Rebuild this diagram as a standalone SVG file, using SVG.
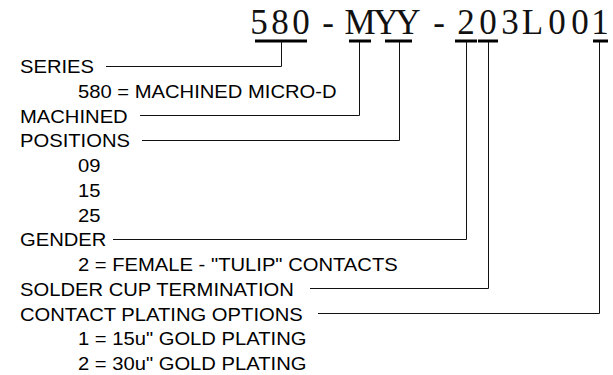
<svg xmlns="http://www.w3.org/2000/svg" width="613" height="375" viewBox="0 0 613 375">
<style>
.lbl{font-family:"Liberation Sans",Arial,sans-serif;font-size:17.5px;fill:#000}
.pn{font-family:"Liberation Serif","Times New Roman",serif;font-size:35px;fill:#111}
.con{fill:none;stroke:#111;stroke-width:1}
.bar{fill:#000}
</style>
<rect width="613" height="375" fill="#fff"/>
<g id="part-number">
<text class="pn" y="34" text-anchor="middle" x="259 280 301 328 360 386 408 439 466 488 510 532.5 557 580 600">580-MYY-203L001</text>
</g>
<g id="bars">
<rect class="bar" x="255" y="39.5" width="52" height="3"/>
<rect class="bar" x="349" y="39.5" width="22" height="3"/>
<rect class="bar" x="385" y="39.5" width="27" height="3"/>
<rect class="bar" x="455" y="39.5" width="22" height="3"/>
<rect class="bar" x="478" y="39.5" width="20" height="3"/>
<rect class="bar" x="593" y="39.5" width="15" height="3"/>
</g>
<g id="connectors">
<path class="con" d="M106,66.5 H281.5 V42"/>
<path class="con" d="M140,115.5 H359.5 V42"/>
<path class="con" d="M142,140.5 H399.5 V42"/>
<path class="con" d="M113,239.5 H466.5 V42"/>
<path class="con" d="M310,288.5 H488.5 V42"/>
<path class="con" d="M318,313.5 H599.5 V42"/>
</g>
<g transform="scale(1.155,1)">
<g id="series"><text class="lbl" x="17.3" y="73.3">SERIES</text><text class="lbl" x="67.5" y="98">580 = MACHINED MICRO-D</text></g>
<g id="machined"><text class="lbl" x="17.3" y="122.8">MACHINED</text></g>
<g id="positions"><text class="lbl" x="17.3" y="147.5">POSITIONS</text><text class="lbl" x="67.5" y="172.3">09</text><text class="lbl" x="67.5" y="197">15</text><text class="lbl" x="67.5" y="221.8">25</text></g>
<g id="gender"><text class="lbl" x="17.3" y="246.5">GENDER</text><text class="lbl" x="67.5" y="271.3">2 = FEMALE - "TULIP" CONTACTS</text></g>
<g id="termination"><text class="lbl" x="17.3" y="296">SOLDER CUP TERMINATION</text></g>
<g id="plating"><text class="lbl" x="17.3" y="320.8">CONTACT PLATING OPTIONS</text><text class="lbl" x="67.5" y="345.5">1 = 15u" GOLD PLATING</text><text class="lbl" x="67.5" y="370.3">2 = 30u" GOLD PLATING</text></g>
</g>
</svg>
